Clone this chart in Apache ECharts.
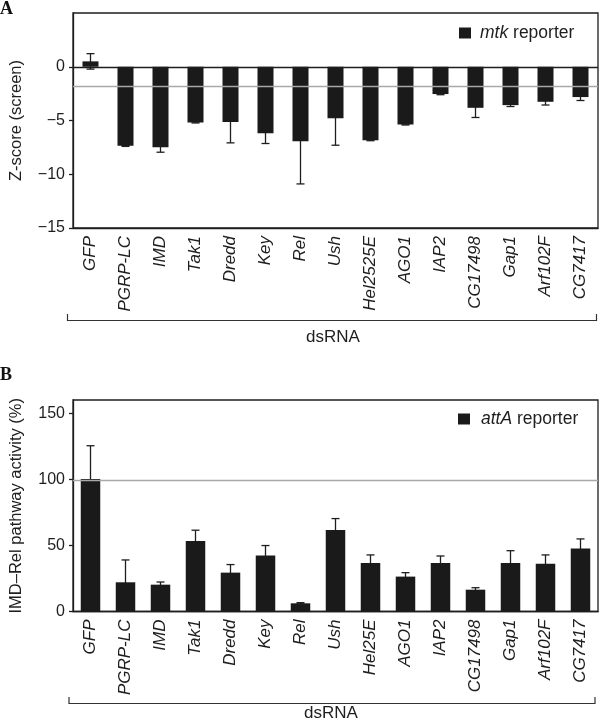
<!DOCTYPE html>
<html>
<head>
<meta charset="utf-8">
<script src="https://cdn.jsdelivr.net/npm/echarts@6/dist/echarts.min.js"></script>
<style>
html,body{margin:0;padding:0;background:#fff;}
#c{width:600px;height:725px;}
</style>
</head>
<body>
<div id="c"></div>
<script>
// ---- Data ----
var categoriesA = ['GFP','PGRP-LC','IMD','Tak1','Dredd','Key','Rel','Ush','Hel2525E','AGO1','IAP2','CG17498','Gap1','Arf102F','CG7417'];
var zScoreA = [0.5, -7.36, -7.48, -5.18, -5.15, -6.18, -6.92, -4.78, -6.83, -5.37, -2.54, -3.82, -3.57, -3.26, -2.82];
var zErrA = [0.72, 0.05, 0.47, 0.05, 1.93, 0.96, 3.98, 2.52, 0.05, 0.05, 0.06, 0.9, 0.13, 0.3, 0.32];
var thresholdA = -1.8;
var yTicksA = [-15, -10, -5, 0];
var yRangeA = [-15, 5];

var categoriesB = ['GFP','PGRP-LC','IMD','Tak1','Dredd','Key','Rel','Ush','Hel25E','AGO1','IAP2','CG17498','Gap1','Arf102F','CG7417'];
var activityB = [100.2, 22.1, 20.3, 53.4, 29.4, 42.3, 6.2, 61.7, 36.7, 26.4, 36.7, 16.5, 36.7, 36.2, 47.6];
var actErrB = [25.2, 16.9, 2.0, 8.1, 6.1, 7.6, 0.5, 8.6, 6.1, 3.0, 5.3, 1.5, 9.3, 6.6, 7.3];
var thresholdB = 99;
var yTicksB = [0, 50, 100, 150];
var yRangeB = [0, 160];

// ---- Styling ----
var FONT = '"Liberation Sans", Arial, sans-serif';
var INK = '#1e1e1e';
var BAR = '#1a1a1a';

function errData(vals, errs) {
  return vals.map(function (v, i) { return [i, v - errs[i], v + errs[i]]; });
}
function errRender(params, api) {
  var x = api.value(0);
  var lo = api.coord([x, api.value(1)]);
  var hi = api.coord([x, api.value(2)]);
  var cx = lo[0], hw = 4;
  var st = { stroke: INK, lineWidth: 1.3 };
  return {
    type: 'group',
    children: [
      { type: 'line', shape: { x1: cx, y1: lo[1], x2: cx, y2: hi[1] }, style: st },
      { type: 'line', shape: { x1: cx - hw, y1: lo[1], x2: cx + hw, y2: lo[1] }, style: st },
      { type: 'line', shape: { x1: cx - hw, y1: hi[1], x2: cx + hw, y2: hi[1] }, style: st }
    ]
  };
}
function minusFmt(v) { return String(v).replace('-', '\u2212'); }

function xAxisCfg(gi, cats) {
  return {
    type: 'category', gridIndex: gi, data: cats,
    axisLine: { onZero: false, lineStyle: { color: INK, width: 1.3 } },
    axisTick: { show: false },
    axisLabel: { rotate: 90, margin: 8, interval: 0, fontFamily: FONT, fontSize: 17, fontStyle: 'italic', color: INK }
  };
}
function yAxisCfg(gi, range, ticks, name) {
  return {
    type: 'value', gridIndex: gi, min: range[0], max: range[1],
    name: name, nameLocation: 'middle', nameGap: 48,
    nameTextStyle: { fontFamily: FONT, fontSize: 16.5, color: INK },
    axisLine: { show: true, lineStyle: { color: INK, width: 1.3 } },
    axisTick: { show: true, inside: false, length: 4, customValues: ticks, lineStyle: { color: INK, width: 1.3 } },
    axisLabel: { customValues: ticks, margin: 8, fontFamily: FONT, fontSize: 16, color: INK, formatter: minusFmt },
    splitLine: { show: false }
  };
}

var chart = echarts.init(document.getElementById('c'), null, { renderer: 'canvas' });
chart.setOption({
  animation: false,
  backgroundColor: '#fff',
  title: [
    { text: 'A', left: 0, top: 0, padding: 0, textStyle: { fontFamily: '"Liberation Serif", serif', fontWeight: 'bold', fontSize: 18, color: '#111' } },
    { text: 'B', left: 0, top: 366, padding: 0, textStyle: { fontFamily: '"Liberation Serif", serif', fontWeight: 'bold', fontSize: 18, color: '#111' } }
  ],
  legend: [
    {
      data: ['mtk reporter'], left: 459, top: 24, icon: 'rect', itemWidth: 12, itemHeight: 11, itemGap: 0, padding: 0,
      formatter: function () { return '{i|mtk} reporter'; },
      textStyle: { fontFamily: FONT, fontSize: 17.5, color: INK, padding: [0, 0, 0, 4], rich: { i: { fontFamily: FONT, fontSize: 17.5, fontStyle: 'italic', color: INK } } }
    },
    {
      data: ['attA reporter'], left: 458, top: 410, icon: 'rect', itemWidth: 12, itemHeight: 11, itemGap: 0, padding: 0,
      formatter: function () { return '{i|attA} reporter'; },
      textStyle: { fontFamily: FONT, fontSize: 17.5, color: INK, padding: [0, 0, 0, 6], rich: { i: { fontFamily: FONT, fontSize: 17.5, fontStyle: 'italic', color: INK } } }
    }
  ],
  grid: [
    { left: 62, top: 13, width: 536, height: 215, show: true, borderColor: INK, borderWidth: 1.3, backgroundColor: 'transparent' },
    { left: 62, top: 400, width: 536, height: 211.5, show: true, borderColor: INK, borderWidth: 1.3, backgroundColor: 'transparent' }
  ],
  xAxis: [xAxisCfg(0, categoriesA), xAxisCfg(1, categoriesB)],
  yAxis: [
    yAxisCfg(0, yRangeA, yTicksA, 'Z-score (screen)'),
    yAxisCfg(1, yRangeB, yTicksB, 'IMD\u2013Rel pathway activity (%)')
  ],
  series: [
    {
      type: 'custom', xAxisIndex: 0, yAxisIndex: 0, z: 1, renderItem: errRender,
      data: errData(zScoreA, zErrA),
      markLine: {
        silent: true, symbol: 'none', label: { show: false },
        data: [
          { yAxis: thresholdA, lineStyle: { color: '#a8a8a8', width: 1.3, type: 'solid' } },
          { yAxis: 0, lineStyle: { color: INK, width: 1.3, type: 'solid' } }
        ]
      }
    },
    {
      name: 'mtk reporter', type: 'bar', xAxisIndex: 0, yAxisIndex: 0, z: 3,
      data: zScoreA, barWidth: 16, itemStyle: { color: BAR }
    },
    {
      type: 'custom', xAxisIndex: 1, yAxisIndex: 1, z: 1, renderItem: errRender,
      data: errData(activityB, actErrB),
      markLine: {
        silent: true, symbol: 'none', label: { show: false },
        data: [ { yAxis: thresholdB, lineStyle: { color: '#a8a8a8', width: 1.3, type: 'solid' } } ]
      }
    },
    {
      name: 'attA reporter', type: 'bar', xAxisIndex: 1, yAxisIndex: 1, z: 3,
      data: activityB, barWidth: 19.5, itemStyle: { color: BAR }
    }
  ],
  graphic: [
    { type: 'polyline', silent: true, shape: { points: [[67.5, 314], [67.5, 320.5], [596.5, 320.5], [596.5, 314]] }, style: { stroke: '#333', lineWidth: 1.2, fill: null } },
    { type: 'text', silent: true, x: 333, y: 337, style: { text: 'dsRNA', font: '17px ' + FONT, fill: INK, align: 'center', verticalAlign: 'middle' } },
    { type: 'polyline', silent: true, shape: { points: [[69, 697], [69, 703.5], [595, 703.5], [595, 697]] }, style: { stroke: '#333', lineWidth: 1.2, fill: null } },
    { type: 'text', silent: true, x: 331, y: 713, style: { text: 'dsRNA', font: '17px ' + FONT, fill: INK, align: 'center', verticalAlign: 'middle' } }
  ]
});
</script>
</body>
</html>
